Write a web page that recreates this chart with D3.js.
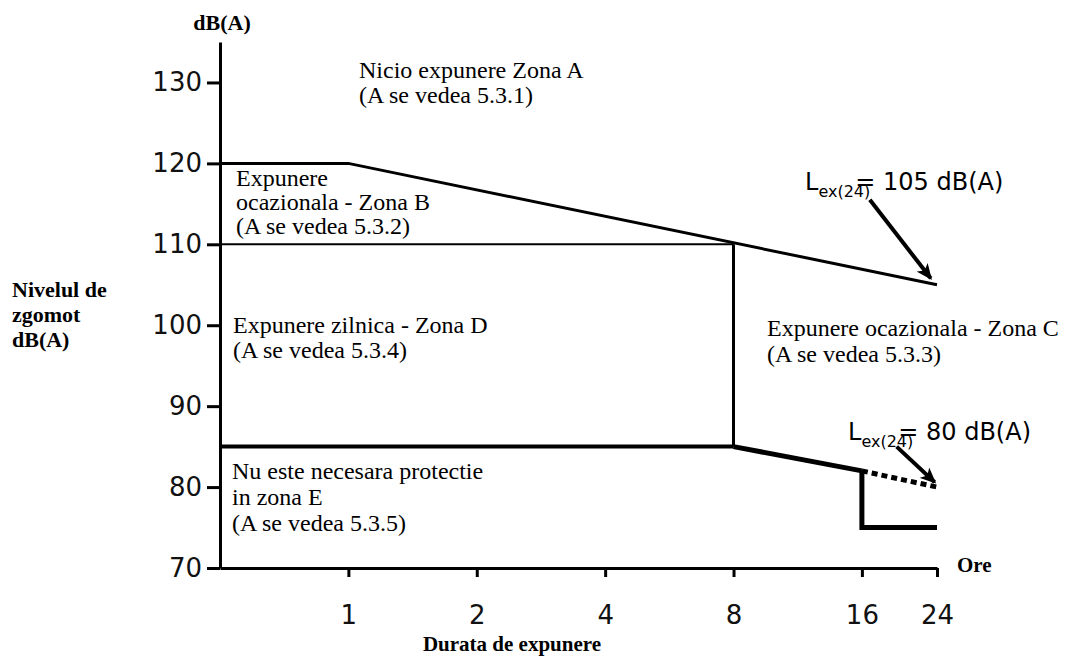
<!DOCTYPE html>
<html>
<head>
<meta charset="utf-8">
<script src="https://cdn.jsdelivr.net/npm/d3@7"></script>
<style>
  body { margin: 0; background: #fff; }
  .zone { font-family: "Liberation Serif", "Times New Roman", serif; font-size: 24px; fill: #000; }
  .title { font-family: "Liberation Serif", "Times New Roman", serif; font-weight: bold; fill: #000; }
  .lex { font-family: "DejaVu Sans", sans-serif; font-size: 24px; fill: #000; }
</style>
</head>
<body>
<svg id="chart" width="1065" height="668"></svg>
<script>
// Zone de expunere la zgomot - durata (ore) vs nivel dB(A)

const xTicks = [1, 2, 4, 8, 16, 24];
const yTicks = [70, 80, 90, 100, 110, 120, 130];

// limite zone (ore, dB)
const upperLimit = [[0.5, 120], [1, 120], [24, 105]];
const zoneBLimit = [[0.5, 110], [8, 110]];
const vertical8 = [[8, 110], [8, 85]];
const lowerLimit = [[0.5, 85], [8, 85]];
const lowerSlope = [[8, 85], [16, 82]];
const step16 = [[16, 82], [16, 75], [24, 75]];
const dottedLimit = [[16, 82], [24, 80]];

// sageti Lex(24)
const arrow105 = [[16.7, 115.5], [23.2, 105.8]];
const arrow80 = [[19.3, 85], [23.7, 80.6]];

const zoneA = ["Nicio expunere Zona A", "(A se vedea 5.3.1)"];
const zoneB = ["Expunere", "ocazionala - Zona B", "(A se vedea 5.3.2)"];
const zoneD = ["Expunere zilnica - Zona D", "(A se vedea 5.3.4)"];
const zoneC = ["Expunere ocazionala - Zona C", "(A se vedea 5.3.3)"];
const zoneE = ["Nu este necesara protectie", "in zona E", "(A se vedea 5.3.5)"];
const yTitle = ["Nivelul de", "zgomot", "dB(A)"];

const svg = d3.select('#chart');

const x = d3.scaleLog().base(2).domain([0.5, 24]).range([220, 937]);
const y = d3.scaleLinear().domain([70, 135]).range([568, 42]);

const line = d3.line().x(d => x(d[0])).y(d => y(d[1]));

// arrow marker
svg.append('defs').append('marker')
    .attr('id', 'head')
    .attr('markerUnits', 'userSpaceOnUse')
    .attr('viewBox', '0 0 16 14')
    .attr('markerWidth', 16)
    .attr('markerHeight', 14)
    .attr('refX', 14)
    .attr('refY', 7)
    .attr('orient', 'auto')
    .append('path')
    .attr('d', 'M0,0 L16,7 L0,14 L4,7 Z')
    .attr('fill', '#000');

// axes
const yAxis = svg.append('g')
    .attr('transform', `translate(${x(0.5)},0)`)
    .call(d3.axisLeft(y).tickValues(yTicks).tickSize(13).tickSizeOuter(0).tickPadding(5));
const xAxis = svg.append('g')
    .attr('transform', `translate(0,${y(70)})`)
    .call(d3.axisBottom(x).tickValues(xTicks).tickFormat(d3.format('d')).tickSize(9).tickSizeOuter(0).tickPadding(29));

[yAxis, xAxis].forEach(g => {
    g.attr('font-family', '"DejaVu Sans", sans-serif').attr('font-size', 26);
    g.select('.domain').attr('stroke', '#000').attr('stroke-width', 3);
    g.selectAll('.tick line').attr('stroke', '#000').attr('stroke-width', 3);
    g.selectAll('.tick text').attr('fill', '#111');
});

// boundary lines
const paths = [
    { d: upperLimit, w: 3 },
    { d: zoneBLimit, w: 2 },
    { d: vertical8, w: 3 },
    { d: lowerLimit, w: 4 },
    { d: lowerSlope, w: 5 },
    { d: step16, w: 5 }
];
svg.selectAll('.limit')
    .data(paths)
    .enter()
    .append('path')
    .attr('class', 'limit')
    .attr('d', p => line(p.d))
    .attr('fill', 'none')
    .attr('stroke', '#000')
    .attr('stroke-width', p => p.w)
    .attr('stroke-linejoin', 'miter');

svg.append('path')
    .attr('d', line(dottedLimit))
    .attr('fill', 'none')
    .attr('stroke', '#000')
    .attr('stroke-width', 5)
    .attr('stroke-dasharray', '6,4');

svg.selectAll('.arrow')
    .data([arrow105, arrow80])
    .enter()
    .append('path')
    .attr('class', 'arrow')
    .attr('d', d => line(d))
    .attr('stroke', '#000')
    .attr('stroke-width', 4)
    .attr('marker-end', 'url(#head)');

// zone labels
function block(lines, x0, y0, step, cls, size) {
    const t = svg.append('text').attr('class', cls).attr('x', x0).attr('y', y0);
    if (size) t.attr('font-size', size);
    t.selectAll('tspan')
        .data(lines)
        .enter()
        .append('tspan')
        .attr('x', x0)
        .attr('dy', (d, i) => i === 0 ? 0 : step)
        .text(d => d);
}

block(zoneA, 359, 78, 25, 'zone');
block(zoneB, 236, 186, 24, 'zone');
block(zoneD, 233, 333, 25, 'zone');
block(zoneC, 767, 336, 26, 'zone');
block(zoneE, 232, 479, 26, 'zone');
block(yTitle, 12, 297, 25, 'title', 22);

svg.append('text').attr('class', 'title').attr('font-size', 22)
    .attr('x', 222).attr('y', 30).attr('text-anchor', 'middle').text('dB(A)');
svg.append('text').attr('class', 'title').attr('font-size', 21)
    .attr('x', 957).attr('y', 572).text('Ore');
svg.append('text').attr('class', 'title').attr('font-size', 21)
    .attr('x', 512).attr('y', 651).attr('text-anchor', 'middle').text('Durata de expunere');

// Lex(24) labels
function lex(x0, y0, value) {
    const t = svg.append('text').attr('class', 'lex').attr('x', x0).attr('y', y0);
    t.append('tspan').text('L');
    t.append('tspan').attr('font-size', 16).attr('dy', 7).text('ex(24)');
    t.append('tspan').attr('dy', -7).attr('dx', -15).text('= ' + value + ' dB(A)');
}
lex(805, 190, 105);
lex(848, 440, 80);
</script>
</body>
</html>
